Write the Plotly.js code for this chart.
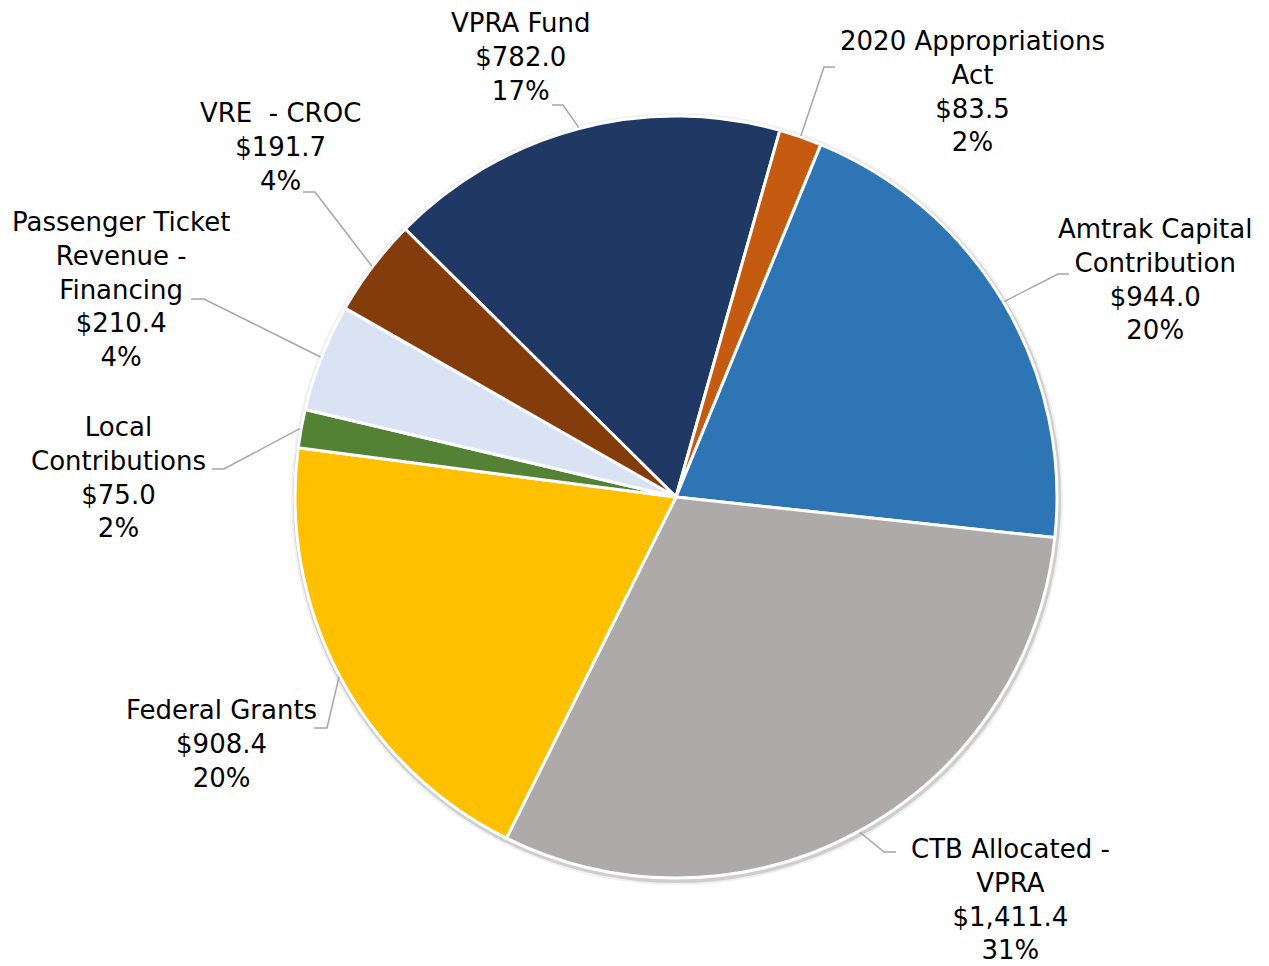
<!DOCTYPE html>
<html><head><meta charset="utf-8">
<script src="https://cdn.plot.ly/plotly-3.0.1.min.js"></script>
<style>html,body{margin:0;padding:0;background:#fff;}#chart{width:1269px;height:966px;}</style>
</head><body><div id="chart"></div>
<script>
// ---- data ----
const categories = ["VPRA Fund", "2020 Appropriations Act", "Amtrak Capital Contribution", "CTB Allocated - VPRA",
  "Federal Grants", "Local Contributions", "Passenger Ticket Revenue - Financing", "VRE  - CROC"];
const labelLines = [["VPRA Fund"], ["2020 Appropriations", "Act"], ["Amtrak Capital", "Contribution"], ["CTB Allocated -", "VPRA"],
  ["Federal Grants"], ["Local", "Contributions"], ["Passenger Ticket", "Revenue -", "Financing"], ["VRE\u00a0 - CROC"]];
const values = [782.0, 83.5, 944.0, 1411.4, 908.4, 75.0, 210.4, 191.7];
const percentLabels = ["17%", "2%", "20%", "31%", "20%", "2%", "4%", "4%"];

// ---- styles / layout positions ----
const colors = ["#203864", "#C55A11", "#2E75B6", "#AEAAAA", "#FFC000", "#548235", "#DAE3F3", "#843C0C"];
const W = 1269, H = 966, CX = 676, CY = 497, R = 381, ROT = 314.7;
const labelPos = [[521, 57], [972, 91.5], [1155, 280], [1010, 899.5], [221, 744], [118.5, 477], [120.5, 289.5], [280, 147]];
const leaderBend = [
  [[563, 105], [552, 105]],
  [[824, 67], [835, 67]],
  [[1058, 274], [1069, 274]],
  [[884, 852], [896, 852]],
  [[327, 728], [314, 728]],
  [[224, 469], [212, 469]],
  [[204, 299], [191, 299]],
  [[315, 192], [303, 192]]
];
const FONT = "'DejaVu Sans', sans-serif";

const px = x => x / W, py = y => 1 - y / H;
const total = values.reduce((a, b) => a + b, 0);
const fmt = v => "$" + v.toLocaleString("en-US", {minimumFractionDigits: 1, maximumFractionDigits: 1});

const annotations = [], shapes = [];
// soft shadow behind the pie
shapes.push({type: "circle", xref: "paper", yref: "paper", layer: "below",
  x0: px(CX - R - 5 + 1), x1: px(CX + R + 5 + 1), y0: py(CY + R + 5 + 2), y1: py(CY - R - 5 + 2),
  fillcolor: "rgba(0,0,0,0.06)", line: {width: 0}});
shapes.push({type: "circle", xref: "paper", yref: "paper", layer: "below",
  x0: px(CX - R - 3 + 1), x1: px(CX + R + 3 + 1), y0: py(CY + R + 3 + 2), y1: py(CY - R - 3 + 2),
  fillcolor: "rgba(0,0,0,0.14)", line: {width: 0}});

let cum = 0;
values.forEach((v, i) => {
  const mid = (ROT + (cum + v / 2) / total * 360) * Math.PI / 180;
  cum += v;
  const sx = CX + (R + 1) * Math.sin(mid), sy = CY - (R + 1) * Math.cos(mid);
  const [b, e] = leaderBend[i];
  shapes.push({type: "path", xref: "paper", yref: "paper", layer: "above",
    path: `M ${px(sx)},${py(sy)} L ${px(b[0])},${py(b[1])} L ${px(e[0])},${py(e[1])}`,
    line: {color: "#A6A6A6", width: 1.5}});
  annotations.push({xref: "paper", yref: "paper", x: px(labelPos[i][0]), y: py(labelPos[i][1]),
    xanchor: "center", yanchor: "middle", align: "center", showarrow: false,
    text: labelLines[i].join("<br>") + "<br>" + fmt(v) + "<br>" + percentLabels[i],
    font: {family: FONT, size: 26, color: "#000000"}});
});

const trace = {
  type: "pie", labels: categories, values: values, sort: false, direction: "clockwise", rotation: ROT,
  textinfo: "none", hoverinfo: "label+value+percent", showlegend: false,
  marker: {colors: colors, line: {color: "#FFFFFF", width: 3}},
  domain: {x: [px(CX - R), px(CX + R)], y: [py(CY + R), py(CY - R)]}
};

const layout = {
  width: W, height: H, margin: {l: 0, r: 0, t: 0, b: 0},
  paper_bgcolor: "#FFFFFF", plot_bgcolor: "#FFFFFF",
  showlegend: false, annotations: annotations, shapes: shapes
};
Plotly.newPlot("chart", [trace], layout, {displayModeBar: false, staticPlot: true});
</script>
</body></html>
